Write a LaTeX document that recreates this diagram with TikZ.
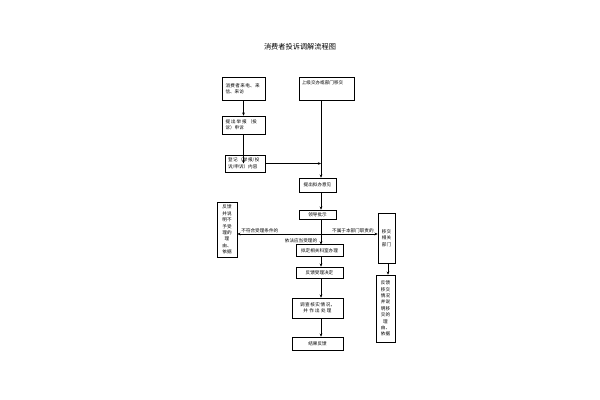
\documentclass[tikz,border=0pt]{standalone}
\usepackage{fontspec}
\newfontfamily\cjk{Noto Sans CJK SC}
\XeTeXlinebreaklocale "zh"
\XeTeXlinebreakskip=0pt plus 1pt
\usetikzlibrary{arrows.meta}
\begin{document}
\begin{tikzpicture}[x=0.5pt,y=-0.5pt,
  bx/.style={draw,line width=0.3pt,inner sep=0pt,font=\cjk\fontsize{2.3}{3.2}\selectfont,align=left},
  ar/.style={-{Stealth[length=1.6pt,width=1.4pt]},line width=0.3pt},
  lb/.style={font=\cjk\fontsize{2.3}{3}\selectfont,inner sep=0.5pt}]
\useasboundingbox (0,0) rectangle (600,400);
\node[font=\cjk\fontsize{3.6}{4}\selectfont] (t) at (300,47) {消费者投诉调解流程图};
\node[bx,minimum width=21.5pt,minimum height=11.5pt,text width=18pt] (b1) at (243.5,88.5) {消费者来电、来信、来访};
\node[bx,minimum width=21.5pt,minimum height=9pt,text width=18pt] (b2) at (243.5,125) {提出举报（投诉）申诉};
\node[bx,minimum width=20pt,minimum height=8.5pt,text width=17pt] (b3) at (245,163.5) {登记（举报/投诉/申诉）内容};
\node[bx,minimum width=27.5pt,minimum height=11.5pt,text width=25pt,anchor=north west] (b4) at (299,77) {上级交办或部门移交\\[3pt]~};
\node[bx,minimum width=18.5pt,minimum height=7pt,align=center] (b5) at (317.5,185) {提出拟办意见};
\node[bx,minimum width=18.5pt,minimum height=4.5pt,align=center] (b6) at (317.5,214.5) {领导批示};
\node[bx,minimum width=23.5pt,minimum height=6pt,align=center,line width=0.5pt] (b7) at (319.5,251) {拟定相关科室办理};
\node[bx,minimum width=23.5pt,minimum height=5.5pt,align=center] (b8) at (319.5,272.5) {反馈受理决定};
\node[bx,minimum width=25.5pt,minimum height=10pt,text width=20pt,align=center] (b9) at (317.5,308) {调查核实情况，并作出处理};
\node[bx,minimum width=25.5pt,minimum height=6.5pt,align=center] (b10) at (317.5,343.5) {结果反馈};
\node[bx,minimum width=10pt,minimum height=27.5pt,text width=5pt,align=center] (l1) at (227,229.5) {反馈并说明不予受理的理由、依据};
\node[bx,minimum width=8.5pt,minimum height=25pt,text width=5pt,align=center] (r1) at (386.5,238) {移交相关部门};
\node[bx,minimum width=9.5pt,minimum height=33.5pt,text width=5pt,align=center] (r2) at (385.5,308.5) {反馈移交情况并说明移交的理由、依据};
\coordinate (m) at (321,163.5);
\coordinate (h) at (321,234);
\draw[ar] (b1) -- (b2);
\draw[ar] (b2) -- (b3 -| b2);
\draw[ar] (b3) -- (m);
\draw[ar] (b4.south -| m) -- (b5.north -| m);
\draw[ar] (b5.south -| m) -- (b6.north -| m);
\draw[ar] (b6.south -| m) -- (b7.north -| m);
\draw[ar] (h) -- (l1.east |- h);
\draw[ar] (h) -- (r1.west |- h);
\draw[ar] (b7.south -| m) -- (b8.north -| m);
\draw[ar] (b8.south -| m) -- (b9.north -| m);
\draw[ar] (b9.south -| m) -- (b10.north -| m);
\draw[ar] (r1.south -| 388,0) -- (r2.north -| 388,0);
\node[lb,anchor=south west] at (240,234) {不符合受理条件的};
\node[lb,anchor=south east] at (375,234) {不属于本部门职责的};
\node[lb,anchor=north] at (301,237) {依法应当受理的};
\end{tikzpicture}
\end{document}
